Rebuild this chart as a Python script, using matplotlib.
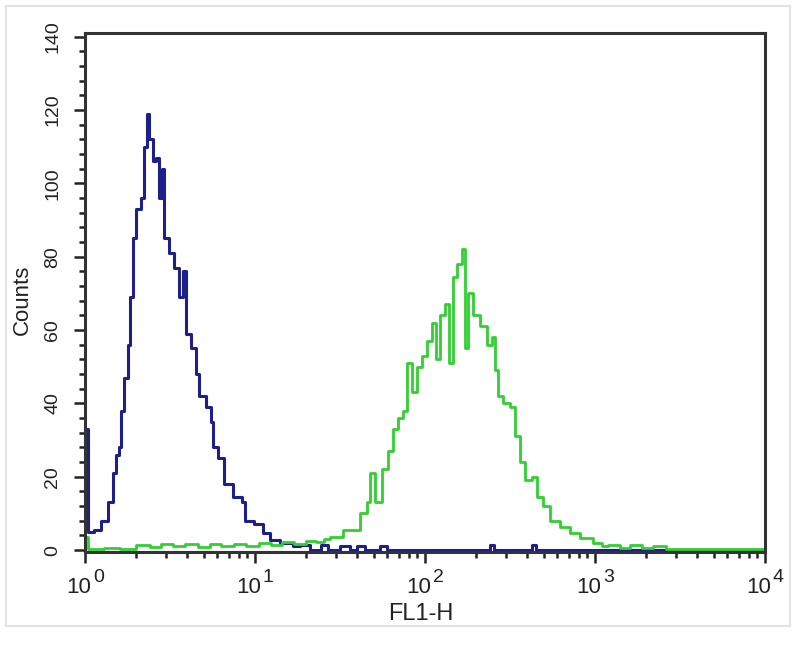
import numpy as np
import matplotlib.pyplot as plt
from matplotlib.ticker import MultipleLocator, LogLocator, NullFormatter
from matplotlib.patches import Rectangle

plt.rcParams['font.family'] = ['Liberation Sans', 'DejaVu Sans']

# blue histogram (control)
blue_x = [1.0, 1.04, 1.13, 1.24, 1.36, 1.46, 1.52, 1.58, 1.63, 1.69, 1.79, 1.84,
          1.91, 1.99, 2.13, 2.22, 2.31, 2.37, 2.50, 2.61, 2.72, 2.83, 2.90, 3.11,
          3.33, 3.56, 3.76, 3.91, 4.18, 4.48, 4.66, 5.12, 5.48, 5.70, 6.03, 6.54,
          7.47, 8.43, 8.78, 9.81, 11.1, 12.3, 14.1, 16.8, 18.5, 21.2, 24.3, 27.0,
          31.7, 36.3, 40.0, 44.5, 54.5, 60.0, 71.5, 240, 255, 428, 450, 10000]
blue_counts = [33, 5, 5.5, 8, 13, 21, 26, 28, 38, 47, 56, 69,
               85, 93, 96, 110, 119, 112, 106, 107, 96, 104, 85, 81,
               77, 69, 76, 59, 55, 48, 42, 39, 35, 28, 25, 18,
               14.5, 13, 8, 7, 4.6, 2.7, 2, 1, 1.5, 0, 1.5, 0,
               1, 0, 1.2, 0, 1, 0, 0, 1.5, 0, 1.5, 0, 0]

# green histogram (antibody stained)
green_x = [1.0, 1.04, 1.3, 1.6, 2.0, 2.4, 2.8, 3.3, 3.9, 4.6, 5.4, 6.3, 7.5,
           8.8, 10.5, 12.5, 14.5, 17.0, 20.0, 23.0, 25.5, 27.7, 33.0, 37.8, 41.5,
           45.7, 47.6, 50.9, 56.0, 60.7, 64.9, 69.5, 74.3, 78.4, 83.9, 89.8, 96.0,
           102.8, 109.9, 116, 122.5, 131, 138, 146, 154, 165, 172, 179, 191,
           210, 231, 247, 258, 268, 287, 315, 337, 361, 386, 424, 454,
           492, 541, 619, 709, 811, 967, 1106, 1200, 1400, 1600, 1900, 2200,
           2600, 3500, 5000, 10000]
green_counts = [3.5, 0.3, 0.5, 0.4, 1.5, 0.8, 1.8, 1.0, 1.8, 0.8, 1.6, 1.2, 1.8,
                1.0, 2.0, 1.4, 2.2, 1.8, 2.6, 2.2, 3.0, 3.5, 5.5, 5.5, 10,
                13, 21, 13, 22, 27, 33, 36, 38, 51, 43, 50, 53,
                57, 62, 52, 64, 67, 51, 74.5, 78, 82, 55, 70, 64,
                61, 56, 58, 49, 42, 40, 39, 31, 24, 19, 20, 14.5,
                12, 8, 6.3, 4.6, 3.3, 2, 1, 1.5, 0.5, 1.5, 0.5, 1.0,
                0.3, 0.3, 0.2, 0.2]

fig = plt.figure(figsize=(8, 6.56), dpi=100)
ax = fig.add_axes([85/800, 1 - 552/656, 680/800, 519/656])

ax.step(blue_x, blue_counts, where='post', color='#1f1f8c', lw=2.2)
ax.step(green_x, green_counts, where='post', color='#30d030', lw=2.0)

ax.set_xscale('log')
ax.set_xlim(1, 10000)
ax.set_ylim(-0.5, 141)

ax.yaxis.set_major_locator(MultipleLocator(20))
ax.yaxis.set_minor_locator(MultipleLocator(4))
ax.xaxis.set_major_locator(LogLocator(base=10))
ax.xaxis.set_minor_locator(LogLocator(base=10, subs=np.arange(2, 10)))
ax.xaxis.set_major_formatter(NullFormatter())
ax.xaxis.set_minor_formatter(NullFormatter())

ax.tick_params(axis='both', which='major', direction='out', length=8, width=1.8, color='#222222')
ax.tick_params(axis='both', which='minor', direction='out', length=4.5, width=1.8, color='#222222')
ax.tick_params(axis='y', labelsize=14, labelrotation=90, pad=9, labelcolor='#222222')
for lbl in ax.get_yticklabels():
    lbl.set_va('center')

for s in ax.spines.values():
    s.set_linewidth(2.2)
    s.set_color('#333333')

# decade labels written as 10 with a raised exponent
for e in range(5):
    ax.annotate('10', xy=(10**e, 0), xycoords=('data', 'axes fraction'),
                xytext=(-4.5, -29.5), textcoords='offset points',
                ha='center', va='baseline', fontsize=16, color='#222222',
                annotation_clip=False)
    ax.annotate(str(e), xy=(10**e, 0), xycoords=('data', 'axes fraction'),
                xytext=(9.5, -21.6), textcoords='offset points',
                ha='center', va='baseline', fontsize=14, color='#222222',
                annotation_clip=False)

fig.text(421/800, 1 - 620/656, 'FL1-H', ha='center', va='baseline', fontsize=17, color='#222222')
fig.text(22/800, 1 - 300/656, 'Counts', ha='center', va='center', rotation=90, fontsize=16,
         color='#222222')

fig.patches.append(Rectangle((6/800, 1 - 626/656), 784/800, 620/656, transform=fig.transFigure,
                             fill=False, edgecolor='#e2e2e2', lw=1.5))

fig.savefig('out.png', dpi=100)
